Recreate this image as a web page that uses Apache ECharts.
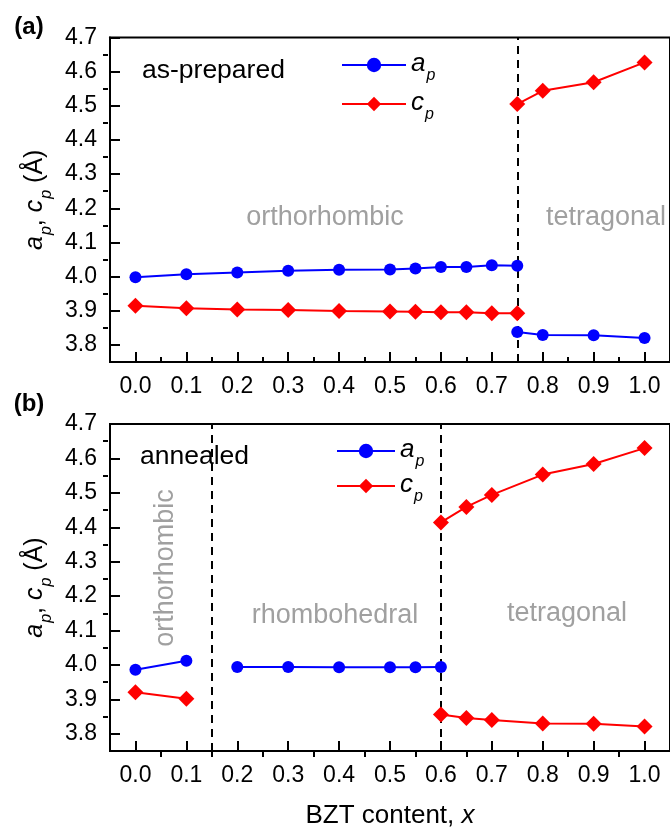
<!DOCTYPE html>
<html><head><meta charset="utf-8">
<script src="https://cdn.jsdelivr.net/npm/echarts@6/dist/echarts.min.js"></script>
<style>html,body{margin:0;padding:0;background:#fff}#c{width:670px;height:830px}</style>
</head><body><div id="c"></div>
<script>
// ---------- data ----------
const xTickValues = [0, 0.1, 0.2, 0.3, 0.4, 0.5, 0.6, 0.7, 0.8, 0.9, 1.0];
const xMinorValues = [0.05, 0.15, 0.25, 0.35, 0.45, 0.55, 0.65, 0.75, 0.85, 0.95];
const yTickValues = [3.8, 3.9, 4.0, 4.1, 4.2, 4.3, 4.4, 4.5, 4.6, 4.7];
const yMinorValues = [3.85, 3.95, 4.05, 4.15, 4.25, 4.35, 4.45, 4.55, 4.65];

// panel (a): as-prepared
const aOrthoX  = [0, 0.1, 0.2, 0.3, 0.4, 0.5, 0.55, 0.6, 0.65, 0.7, 0.75];
const aOrthoAp = [3.998, 4.007, 4.012, 4.017, 4.020, 4.021, 4.024, 4.028, 4.028, 4.033, 4.032];
const aOrthoCp = [3.915, 3.907, 3.904, 3.902, 3.899, 3.898, 3.897, 3.896, 3.896, 3.893, 3.893];
const aTetX    = [0.75, 0.8, 0.9, 1.0];
const aTetAp   = [3.838, 3.829, 3.828, 3.820];
const aTetCp   = [4.505, 4.544, 4.569, 4.627];
const aBounds  = [0.75];

// panel (b): annealed
const bOrthoX  = [0, 0.1];
const bOrthoAp = [3.986, 4.012];
const bOrthoCp = [3.921, 3.902];
const bRhoX    = [0.2, 0.3, 0.4, 0.5, 0.55, 0.6];
const bRhoAp   = [3.994, 3.994, 3.993, 3.993, 3.993, 3.994];
const bTetX    = [0.6, 0.65, 0.7, 0.8, 0.9, 1.0];
const bTetCpHi = [4.414, 4.459, 4.494, 4.553, 4.584, 4.630];
const bTetCpLo = [3.856, 3.846, 3.840, 3.830, 3.829, 3.821];
const bBounds  = [0.15, 0.6];

// ---------- styling ----------
const FONT = '"Liberation Sans", Arial, Helvetica, sans-serif';
const BLUE = '#0000ff', RED = '#ff0000', GRAY = '#a0a0a0';
const zip = (xs, ys) => xs.map((x, i) => [x, ys[i]]);

const GRID_LEFT = 110, GRID_RIGHT = -7, GRID_W = 670 - GRID_LEFT - GRID_RIGHT;
const grids = [
  {left: GRID_LEFT, top: 37.5, right: GRID_RIGHT, height: 324.5},
  {left: GRID_LEFT, top: 424, right: GRID_RIGHT, height: 333}
];

function xMain(g, withName) {
  const ax = {
    type: 'value', gridIndex: g, min: -0.05, max: 1.05, position: 'bottom',
    axisLine: {show: true, onZero: false, lineStyle: {color: '#000', width: 2}},
    axisTick: {show: true, inside: true, length: 10, customValues: xTickValues, lineStyle: {color: '#000', width: 2}},
    axisLabel: {show: true, customValues: xTickValues, margin: 13, formatter: v => v.toFixed(1),
      fontSize: 23, fontFamily: FONT, color: '#000'},
    splitLine: {show: false}
  };
  if (withName) {
    ax.name = '{n|BZT content, }{i|x}';
    ax.nameLocation = 'middle';
    ax.nameGap = 52;
    ax.nameTextStyle = {rich: {
      n: {fontSize: 26, fontFamily: FONT, color: '#000'},
      i: {fontSize: 26, fontFamily: FONT, color: '#000', fontStyle: 'italic'}
    }};
  }
  return ax;
}
// minor ticks: an extra axis placed on the opposite side and shifted onto the main axis line
function xMinor(g) {
  return {
    type: 'value', gridIndex: g, min: -0.05, max: 1.05, position: 'top', offset: -grids[g].height,
    axisLine: {show: false, onZero: false},
    axisTick: {show: true, inside: false, length: 5, customValues: xMinorValues, lineStyle: {color: '#000', width: 2}},
    axisLabel: {show: false}, splitLine: {show: false}
  };
}
const titleRich = {
  i: {fontSize: 25, fontFamily: FONT, color: '#000', fontStyle: 'italic', verticalAlign: 'top', lineHeight: 28},
  n: {fontSize: 25, fontFamily: FONT, color: '#000', verticalAlign: 'top', lineHeight: 28},
  s: {fontSize: 16, fontFamily: FONT, color: '#000', fontStyle: 'italic', verticalAlign: 'top', lineHeight: 16, padding: [16, 0, 0, 1]}
};
function yMain(g) {
  return {
    type: 'value', gridIndex: g, min: 3.75, max: 4.7, position: 'left',
    axisLine: {show: true, onZero: false, lineStyle: {color: '#000', width: 2}},
    axisTick: {show: true, inside: true, length: 10, customValues: yTickValues, lineStyle: {color: '#000', width: 2}},
    axisLabel: {show: true, customValues: yTickValues, margin: 13, formatter: v => v.toFixed(1),
      fontSize: 23, fontFamily: FONT, color: '#000'},
    splitLine: {show: false},
    name: '{i|a}{s|p}{n|, }{i|c}{s|p}{n| (Å)}',
    nameLocation: 'middle', nameRotate: 90, nameGap: 57,
    nameTextStyle: {rich: titleRich}
  };
}
function yMinor(g) {
  return {
    type: 'value', gridIndex: g, min: 3.75, max: 4.7, position: 'right', offset: -GRID_W,
    axisLine: {show: false, onZero: false},
    axisTick: {show: true, inside: false, length: 5, customValues: yMinorValues, lineStyle: {color: '#000', width: 2}},
    axisLabel: {show: false}, splitLine: {show: false}
  };
}

function lineSeries(name, data, g, color, symbol, size, bounds) {
  const s = {
    type: 'line', name: name, data: data,
    xAxisIndex: g * 2, yAxisIndex: g * 2,
    symbol: symbol, symbolSize: size, showSymbol: true,
    lineStyle: {color: color, width: 2},
    itemStyle: {color: color},
    z: 3
  };
  if (bounds) {
    s.markLine = {
      silent: true, symbol: 'none', z: 1, animation: false,
      label: {show: false},
      lineStyle: {color: '#000', type: [8, 6], width: 2},
      data: bounds.map(v => ({xAxis: v}))
    };
  }
  return s;
}

const legendRich = {
  i: {fontSize: 26, fontFamily: FONT, color: '#000', fontStyle: 'italic', verticalAlign: 'top', lineHeight: 28},
  s: {fontSize: 16, fontFamily: FONT, color: '#000', fontStyle: 'italic', verticalAlign: 'top', lineHeight: 16, padding: [17, 0, 0, 1]}
};
function legend(left, top, gap, w) {
  return {
    orient: 'vertical', left: left, top: top, padding: 0, itemGap: gap,
    itemWidth: w, itemHeight: 18, selectedMode: false,
    data: ['a_p', 'c_p'],
    formatter: n => n === 'a_p' ? '{i|a}{s|p}' : '{i|c}{s|p}',
    textStyle: {rich: legendRich}
  };
}

function txt(text, x, y, opts) {
  return {
    type: 'text', x: x, y: y, z: 100,
    style: Object.assign({text: text, fontSize: 26.5, fontFamily: FONT, fill: '#000',
      align: 'center', verticalAlign: 'middle'}, opts || {})
  };
}

const option = {
  animation: false,
  backgroundColor: '#fff',
  grid: grids.map(g => Object.assign({show: true, borderColor: '#000', borderWidth: 2, backgroundColor: 'transparent'}, g)),
  xAxis: [xMain(0, false), xMinor(0), xMain(1, true), xMinor(1)],
  yAxis: [yMain(0), yMinor(0), yMain(1), yMinor(1)],
  legend: [legend(341, 51, 6, 64), legend(336, 437, 2, 58)],
  series: [
    lineSeries('a_p', zip(aOrthoX, aOrthoAp), 0, BLUE, 'circle', 12, aBounds),
    lineSeries('c_p', zip(aOrthoX, aOrthoCp), 0, RED, 'diamond', 16),
    lineSeries('a_p', zip(aTetX, aTetAp), 0, BLUE, 'circle', 12),
    lineSeries('c_p', zip(aTetX, aTetCp), 0, RED, 'diamond', 16),
    lineSeries('a_p', zip(bOrthoX, bOrthoAp), 1, BLUE, 'circle', 12, bBounds),
    lineSeries('c_p', zip(bOrthoX, bOrthoCp), 1, RED, 'diamond', 16),
    lineSeries('a_p', zip(bRhoX, bRhoAp), 1, BLUE, 'circle', 12),
    lineSeries('c_p', zip(bTetX, bTetCpHi), 1, RED, 'diamond', 16),
    lineSeries('c_p', zip(bTetX, bTetCpLo), 1, RED, 'diamond', 16)
  ],
  graphic: [
    txt('(a)', 29, 27, {fontWeight: 'bold', fontSize: 24}),
    txt('(b)', 29, 404, {fontWeight: 'bold', fontSize: 24}),
    txt('as-prepared', 142, 71, {align: 'left'}),
    txt('annealed', 140, 457, {align: 'left'}),
    txt('orthorhombic', 325, 218, {fill: GRAY, fontSize: 27}),
    txt('tetragonal', 606, 218, {fill: GRAY, fontSize: 27}),
    txt('rhombohedral', 335, 616, {fill: GRAY, fontSize: 27}),
    txt('tetragonal', 567, 614, {fill: GRAY, fontSize: 27}),
    Object.assign(txt('orthorhombic', 166, 568, {fill: GRAY, fontSize: 27}), {rotation: Math.PI / 2})
  ]
};

const chart = echarts.init(document.getElementById('c'));
chart.setOption(option);
</script>
</body></html>
